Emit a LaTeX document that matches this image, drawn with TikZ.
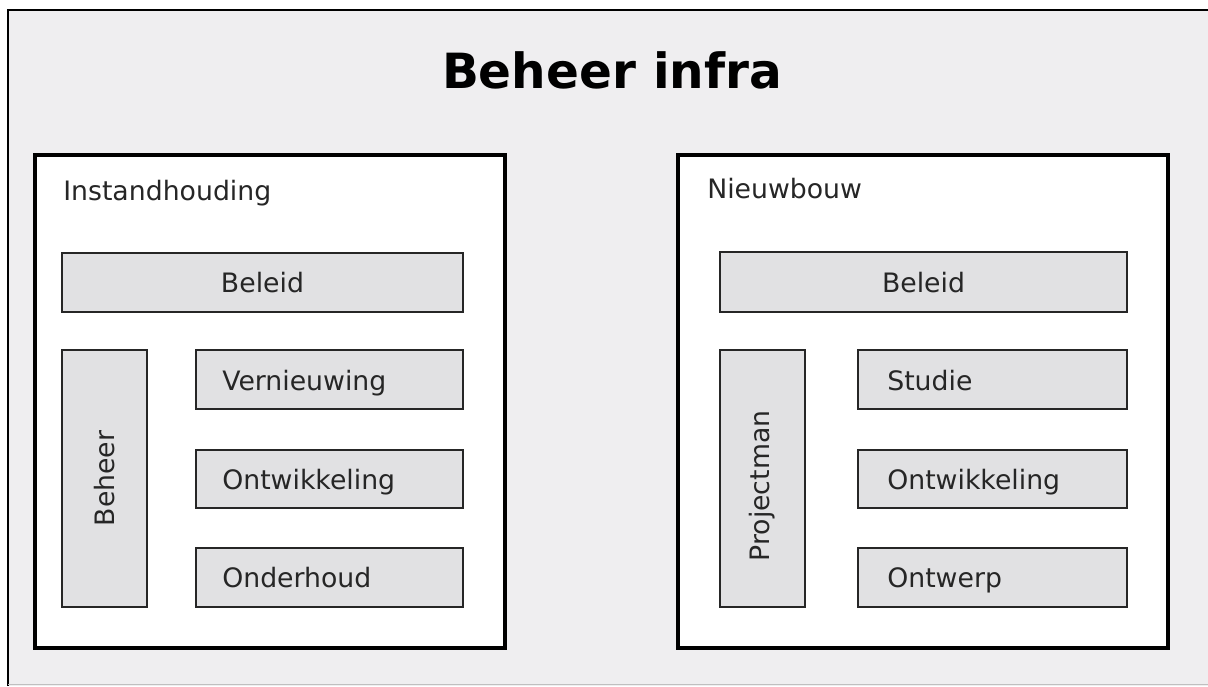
\documentclass[tikz,border=0pt]{standalone}
\usepackage{fontspec}
\setmainfont{DejaVu Sans}
\usepackage{xcolor}
\definecolor{achtergrond}{HTML}{EFEEF0}
\definecolor{blokgrijs}{HTML}{E1E1E3}
\tikzset{
    paneel/.style={line width=2.2pt,fill=white},
    blok/.style={line width=2pt,draw=black!85,fill=blokgrijs},
    tekst/.style={font=\fontsize{19}{23}\selectfont,text=black!85,inner sep=0pt},
}

\begin{document}
\begin{tikzpicture}[x=0.025cm,y=-0.025cm]
    % Define parameters
    \def\bx{196}  % left edge small blocks, left panel
    \def\cx{858}  % left edge small blocks, right panel
    \useasboundingbox (0,0) rectangle (1208,686);

% Frame
    \fill[white] (0,0) rectangle (1208,686);
    \fill[achtergrond] (8,10) rectangle (1208,686);
    \draw[line width=2pt] (8,686) -- (8,10) -- (1208,10);
    \draw[black!25,line width=1pt] (8,684.5) -- (1208,684.5);
    \node[font=\fontsize{34.5}{40}\selectfont\bfseries,inner sep=0pt,anchor=base] (titel) at (612,88) {Beheer infra};

% Instandhouding
\begin{scope}
    \draw[paneel] (35,155) rectangle (505,648);
    \node[tekst,anchor=base west] (instand) at (63,200) {Instandhouding};

    \draw[blok] (62,253) rectangle (463,312);
    \node[tekst,anchor=base] (beleidA) at (262.5,292.5) {Beleid};

    \draw[blok] (62,350) rectangle (147,607);
    \node[tekst,rotate=90] (beheer) at (105,478.5) {Beheer};

    \draw[blok] (\bx,350) rectangle (463,409);
    \node[tekst,anchor=base west] (vern) at (222,390) {Vernieuwing};
    \draw[blok] (\bx,450) rectangle (463,508);
    \node[tekst,anchor=base west] (ontwA) at (222,489) {Ontwikkeling};
    \draw[blok] (\bx,548) rectangle (463,607);
    \node[tekst,anchor=base west] (onderh) at (222,587.5) {Onderhoud};
\end{scope}

% Nieuwbouw
\begin{scope}
    \draw[paneel] (678,155) rectangle (1168,648);
    \node[tekst,anchor=base west] (nieuw) at (707,198) {Nieuwbouw};

    \draw[blok] (720,252) rectangle (1127,312);
    \node[tekst,anchor=base] (beleidB) at (923.5,292) {Beleid};

    \draw[blok] (720,350) rectangle (805,607);
    \node[tekst,rotate=90] (projman) at (762.5,486) {Projectman};

    \draw[blok] (\cx,350) rectangle (1127,409);
    \node[tekst,anchor=base west] (studie) at (887,390) {Studie};
    \draw[blok] (\cx,450) rectangle (1127,508);
    \node[tekst,anchor=base west] (ontwB) at (887,489) {Ontwikkeling};
    \draw[blok] (\cx,548) rectangle (1127,607);
    \node[tekst,anchor=base west] (ontwerp) at (887,587.5) {Ontwerp};
\end{scope}

\end{tikzpicture}
\end{document}
